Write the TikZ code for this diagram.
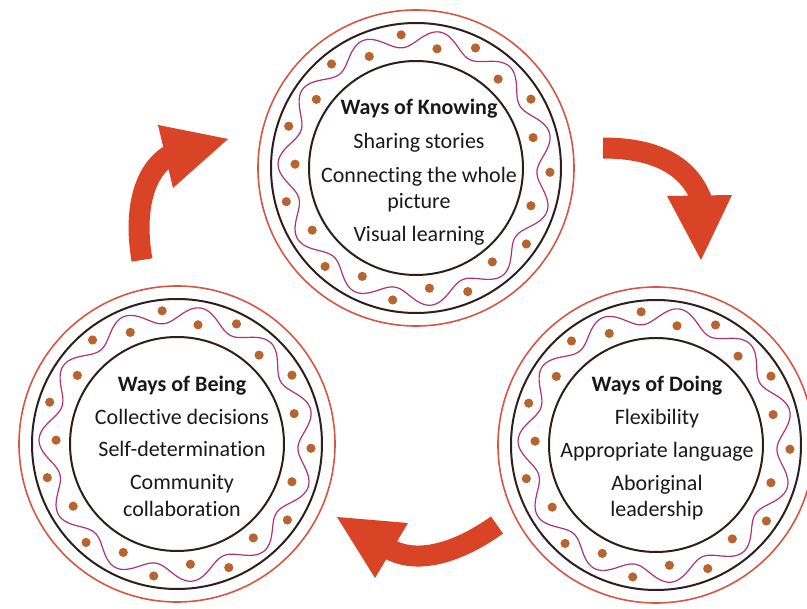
\documentclass[tikz,border=0pt]{standalone}
\usepackage{fontspec}
\setmainfont{Carlito}[Ligatures={TeX,NoCommon}]
\definecolor{ringred}{RGB}{214,86,70}
\definecolor{ringdark}{RGB}{45,32,28}
\definecolor{wavec}{RGB}{178,50,112}
\definecolor{dotc}{RGB}{184,100,46}
\definecolor{arrowred}{RGB}{218,68,38}
\definecolor{textc}{RGB}{25,25,25}
\begin{document}
\begin{tikzpicture}[x=1pt,y=1pt,
  redring/.style={draw=ringred, line width=1.6pt},
  darkring/.style={draw=ringdark, line width=2pt},
  wavering/.style={draw=wavec, line width=1.2pt},
  ringdot/.style={fill=dotc},
  shaft/.style={draw=arrowred, line width=21pt},
  arrowhd/.style={fill=arrowred},
  lbl/.style={text=textc, font=\fontsize{22}{26}\selectfont, anchor=base, inner sep=0pt},
  ttl/.style={text=textc, font=\fontsize{22}{26}\selectfont\bfseries, anchor=base, inner sep=0pt}]
\useasboundingbox (0,0) rectangle (807,-609);
\clip (0,0) rectangle (807,-609);
\fill[white] (0,0) rectangle (807,-609);

% rings
\foreach \n/\cx/\cy in {K/416/-168, B/177/-444, D/656/-445} {
  \coordinate (\n) at (\cx,\cy);
  \draw[redring] (\n) circle[radius=158pt];
  \draw[darkring] (\n) circle[radius=145pt];
  \draw[darkring] (\n) circle[radius=107pt];
  \draw[wavering] plot[domain=0:360, samples=721]
    ({\cx+(129.5+8.5*cos(11*(\x-80)))*cos(\x)}, {\cy+(129.5+8.5*cos(11*(\x-80)))*sin(\x)}) -- cycle;
  \foreach \k in {0,...,10} {
    \fill[ringdot] (\n) ++({80+\k*32.7273}:121pt) circle[radius=4.6pt];
    \fill[ringdot] (\n) ++({96.3636+\k*32.7273}:134pt) circle[radius=4.6pt];
  }
}

% arrows
\coordinate (a1s) at (142,-260);
\coordinate (a1e) at (170,-155);
\draw[shaft] (a1s) .. controls (134,-214) and (142,-172) .. (a1e);
\fill[arrowhd] (158,-125) -- (228,-139) -- (173,-188) -- cycle;

\coordinate (a2s) at (603,-148);
\coordinate (a2e) at (702,-201);
\draw[shaft] (a2s) .. controls (650,-148) and (688,-162) .. (a2e);
\fill[arrowhd] (667,-196) -- (732,-195) -- (701,-260) -- cycle;

\coordinate (a3s) at (497,-525);
\coordinate (a3e) at (389,-549);
\draw[shaft] (a3s) .. controls (462,-550) and (420,-566) .. (a3e);
\fill[arrowhd] (337,-517) -- (408,-523) -- (375,-578) -- cycle;

% texts: Ways of Knowing
\node[ttl] (k0) at (419,-115) {Ways of Knowing};
\node[lbl] (k1) at (419,-149) {Sharing stories};
\node[lbl] (k2) at (419,-183) {Connecting the whole};
\node[lbl] (k3) at (419,-209) {picture};
\node[lbl] (k4) at (419,-242) {Visual learning};

% Ways of Doing
\node[ttl] (d0) at (657,-392) {Ways of Doing};
\node[lbl] (d1) at (657,-425) {Flexibility};
\node[lbl] (d2) at (657,-458) {Appropriate language};
\node[lbl] (d3) at (657,-491) {Aboriginal};
\node[lbl] (d4) at (657,-517) {leadership};

% Ways of Being
\node[ttl] (b0) at (182,-392) {Ways of Being};
\node[lbl] (b1) at (182,-425) {Collective decisions};
\node[lbl] (b2) at (182,-457) {Self-determination};
\node[lbl] (b3) at (182,-490) {Community};
\node[lbl] (b4) at (182,-517) {collaboration};
\end{tikzpicture}
\end{document}
